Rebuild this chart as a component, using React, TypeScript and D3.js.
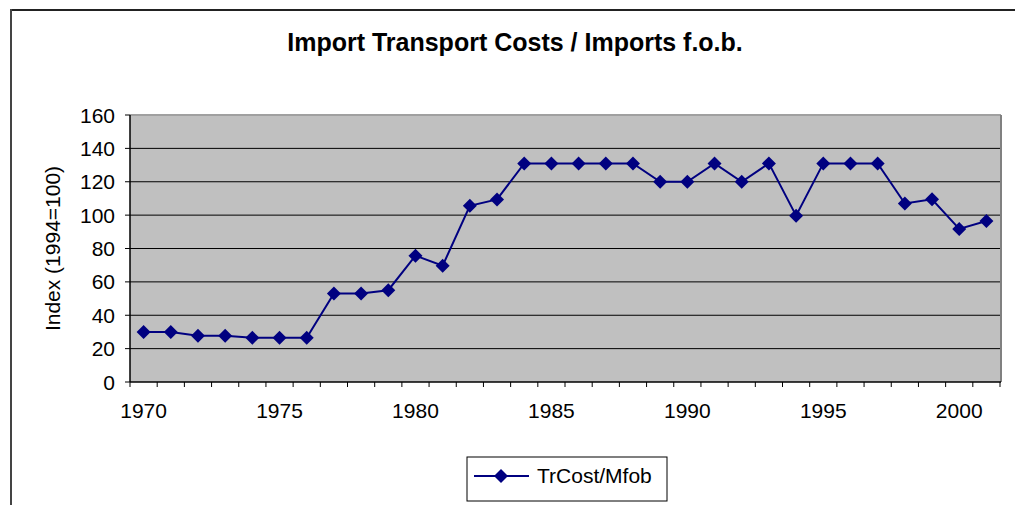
import React, { useEffect, useRef } from "react";
import * as d3 from "d3";

const years = [
  1970, 1971, 1972, 1973, 1974, 1975, 1976, 1977, 1978, 1979, 1980, 1981, 1982, 1983, 1984, 1985,
  1986, 1987, 1988, 1989, 1990, 1991, 1992, 1993, 1994, 1995, 1996, 1997, 1998, 1999, 2000, 2001,
];
const trCostMfob = [
  30, 30, 27.7, 27.7, 26.5, 26.5, 26.5, 53, 53, 55, 75.7, 69.7, 105.6, 109.4, 131, 131,
  131, 131, 131, 120, 120, 131, 120, 131, 99.7, 131, 131, 131, 107, 109.5, 91.7, 96.5,
];
const yTicks = [0, 20, 40, 60, 80, 100, 120, 140, 160];
const xLabelYears = [1970, 1975, 1980, 1985, 1990, 1995, 2000];

const FONT = "'Liberation Sans', Arial, sans-serif";

const App = () => {
  const svgRef = useRef<SVGSVGElement>(null);

  useEffect(() => {
    const svg = d3.select(svgRef.current);
    svg.selectAll("*").remove();

    const width = 1015;
    const height = 505;
    const left = 130;
    const right = 1000;
    const top = 115;
    const bottom = 382;

    svg.attr("width", width).attr("height", height);

    // outer frame
    svg.append("rect").attr("width", width).attr("height", height).attr("fill", "#fff");
    svg.append("line").attr("x1", 10).attr("x2", width).attr("y1", 10).attr("y2", 10)
      .attr("stroke", "#222").attr("stroke-width", 2);
    svg.append("line").attr("x1", 11).attr("x2", 11).attr("y1", 9).attr("y2", height)
      .attr("stroke", "#444").attr("stroke-width", 2);

    // title
    svg.append("text")
      .attr("x", 515).attr("y", 51)
      .attr("text-anchor", "middle")
      .style("font-family", FONT).style("font-weight", "bold").style("font-size", "25px")
      .text("Import Transport Costs / Imports f.o.b.");

    const x = d3.scaleBand<number>().domain(years).range([left, right]).padding(0);
    const y = d3.scaleLinear().domain([0, 160]).range([bottom, top]);

    // plot area
    svg.append("rect")
      .attr("x", left).attr("y", top)
      .attr("width", right - left).attr("height", bottom - top)
      .attr("fill", "#c0c0c0");

    // gridlines
    svg.append("g").selectAll("line")
      .data(yTicks.filter((t) => t > 0 && t < 160))
      .enter().append("line")
      .attr("x1", left).attr("x2", right)
      .attr("y1", (d) => y(d)).attr("y2", (d) => y(d))
      .attr("stroke", "#000").attr("stroke-width", 1);

    // plot border top/right
    svg.append("line").attr("x1", left).attr("x2", right + 1).attr("y1", top).attr("y2", top)
      .attr("stroke", "#a0a0a0").attr("stroke-width", 2);
    svg.append("line").attr("x1", right + 1).attr("x2", right + 1).attr("y1", top).attr("y2", bottom)
      .attr("stroke", "#808080").attr("stroke-width", 2);

    // y axis
    svg.append("line").attr("x1", left).attr("x2", left).attr("y1", top).attr("y2", bottom)
      .attr("stroke", "#000").attr("stroke-width", 1.5);
    const yg = svg.append("g");
    yg.selectAll("line")
      .data(yTicks).enter().append("line")
      .attr("x1", left - 5).attr("x2", left)
      .attr("y1", (d) => y(d)).attr("y2", (d) => y(d))
      .attr("stroke", "#000");
    yg.selectAll("text")
      .data(yTicks).enter().append("text")
      .attr("x", left - 15).attr("y", (d) => y(d))
      .attr("dy", "0.36em")
      .attr("text-anchor", "end")
      .style("font-family", FONT).style("font-size", "21px")
      .text((d) => d);

    svg.append("text")
      .attr("transform", `translate(60,${(top + bottom) / 2}) rotate(-90)`)
      .attr("text-anchor", "middle")
      .style("font-family", FONT).style("font-size", "21px")
      .text("Index (1994=100)");

    // x axis
    svg.append("line").attr("x1", left).attr("x2", right + 1).attr("y1", bottom).attr("y2", bottom)
      .attr("stroke", "#000").attr("stroke-width", 1.5);
    const boundaries = years.map((yr) => x(yr)!).concat([right]);
    svg.append("g").selectAll("line")
      .data(boundaries).enter().append("line")
      .attr("x1", (d) => d).attr("x2", (d) => d)
      .attr("y1", bottom).attr("y2", bottom + 5)
      .attr("stroke", "#000");
    svg.append("g").selectAll("text")
      .data(xLabelYears).enter().append("text")
      .attr("x", (d) => x(d)! + x.bandwidth() / 2)
      .attr("y", 418)
      .attr("text-anchor", "middle")
      .style("font-family", FONT).style("font-size", "21px")
      .text((d) => d);

    // series
    const pts = years.map((yr, i) => [x(yr)! + x.bandwidth() / 2, y(trCostMfob[i])] as [number, number]);
    svg.append("path")
      .attr("d", d3.line()(pts))
      .attr("fill", "none")
      .attr("stroke", "#000080")
      .attr("stroke-width", 2);
    const diamond = "M0,-7L7,0L0,7L-7,0Z";
    svg.append("g").selectAll("path")
      .data(pts).enter().append("path")
      .attr("d", diamond)
      .attr("transform", (d) => `translate(${d[0]},${d[1]})`)
      .attr("fill", "#000080");

    // legend
    const lg = svg.append("g");
    lg.append("rect")
      .attr("x", 467).attr("y", 457).attr("width", 200).attr("height", 44)
      .attr("fill", "#fff").attr("stroke", "#000").attr("stroke-width", 1);
    lg.append("line").attr("x1", 474).attr("x2", 529).attr("y1", 476).attr("y2", 476)
      .attr("stroke", "#000080").attr("stroke-width", 2);
    lg.append("path").attr("d", diamond).attr("transform", "translate(501,476)").attr("fill", "#000080");
    lg.append("text")
      .attr("x", 537).attr("y", 483)
      .style("font-family", FONT).style("font-size", "21px")
      .text("TrCost/Mfob");
  }, []);

  return (
    <div style={{ position: "absolute", left: 0, top: 0 }}>
      <svg ref={svgRef}></svg>
    </div>
  );
};

export default App;
